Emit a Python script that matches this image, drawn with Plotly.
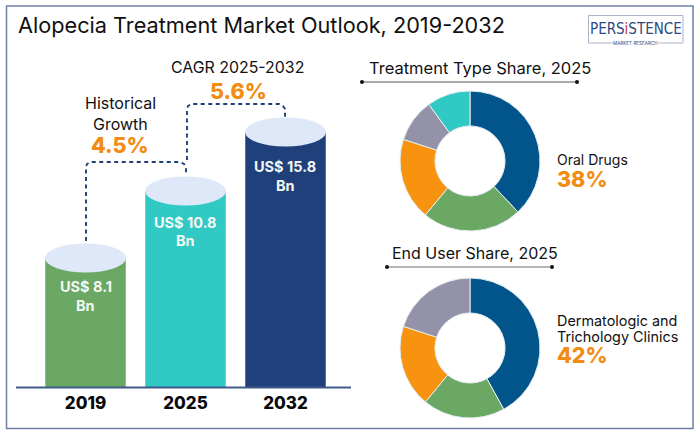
import plotly.graph_objects as go

W, H = 700, 435
BASE = 387

years = ["2019", "2025", "2032"]
market_values = ["8.1", "10.8", "15.8"]
bar_heights = [129, 196, 255]
bar_colors = ["#6aa864", "#30c9c3", "#20407c"]
cap_color = "#dfe8f8"

treatment_values = [38, 23, 19, 10, 10]
treatment_labels = ["Oral Drugs", "Topical Treatments", "Injectables", "Devices", "Others"]
treatment_colors = ["#02558b", "#6aa864", "#f7930f", "#9392a8", "#30c9c3"]

user_values = [42, 19, 19, 20]
user_labels = ["Dermatologic and Trichology Clinics", "Hospitals", "Homecare", "Others"]
user_colors = ["#02558b", "#6aa864", "#f7930f", "#9392a8"]

FONT = "Inter"
ORANGE = "#f28c13"
NAVY = "#1f3f78"


def px(x):
    return x / W


def py(y):
    return 1 - y / H


fig = go.Figure()

fig.add_trace(go.Bar(
    x=years, y=bar_heights, marker=dict(color=bar_colors, line=dict(width=0)),
    hoverinfo="skip", showlegend=False, width=0.805,
))

fig.add_trace(go.Pie(
    values=treatment_values, labels=treatment_labels, hole=0.5, sort=False,
    direction="clockwise", rotation=0, textinfo="none", showlegend=False,
    marker=dict(colors=treatment_colors, line=dict(color="#e6eef2", width=1)),
    domain=dict(x=[px(400), px(540)], y=[py(231), py(91)]),
))
fig.add_trace(go.Pie(
    values=user_values, labels=user_labels, hole=0.5, sort=False,
    direction="clockwise", rotation=0, textinfo="none", showlegend=False,
    marker=dict(colors=user_colors, line=dict(color="#e6eef2", width=1)),
    domain=dict(x=[px(400), px(540)], y=[py(418), py(278)]),
))

shapes = []
# outer frame
shapes.append(dict(type="rect", xref="paper", yref="paper", x0=px(6.5), x1=px(693), y0=py(428.5), y1=py(6),
                   line=dict(color="#6d7fa6", width=1.5), layer="below"))
# cylinder caps, derived from the bar heights
for i, h in enumerate(bar_heights):
    shapes.append(dict(type="circle", xref="x", yref="y", x0=i - 0.405, x1=i + 0.405, y0=h - 14.5, y1=h + 14.5,
                       fillcolor=cap_color, line=dict(width=0)))
# baseline
shapes.append(dict(type="line", xref="paper", yref="paper", x0=px(16), x1=px(351), y0=py(387.5), y1=py(387.5),
                   line=dict(color="#3f5a8a", width=2)))


def path(points):
    return "M " + " L ".join(f"{px(x):.5f},{py(y):.5f}" for x, y in points)


for pts in (
    [(86, 241), (86, 167), (87, 164), (90, 162), (180, 162), (184, 164), (186, 167), (186, 175)],
    [(187, 160), (187, 109), (188, 106), (191, 104), (279, 104), (283, 106), (285, 109), (285, 118)],
):
    shapes.append(dict(type="path", xref="paper", yref="paper", path=path(pts),
                       line=dict(color=NAVY, width=1.9, dash="4px,3.5px")))

# header rules with end dots
for x0, x1, y, col, lw in ((362, 577, 82, "#555555", 1), (387, 552, 267, "#b5b5b5", 2)):
    shapes.append(dict(type="line", xref="paper", yref="paper", x0=px(x0), x1=px(x1), y0=py(y), y1=py(y),
                       line=dict(color=col, width=lw)))
    for xc in (x0, x1):
        shapes.append(dict(type="circle", xref="paper", yref="paper", x0=px(xc - 2), x1=px(xc + 2),
                           y0=py(y + 2), y1=py(y - 2), fillcolor="#111111", line=dict(width=0)))

# logo frame
shapes.append(dict(type="rect", xref="paper", yref="paper", x0=px(588.5), x1=px(683), y0=py(43), y1=py(15.5),
                   line=dict(color="#aab4cc", width=1)))

ann = []


def text(x, y, s, size, color="#111111", weight=400, anchor="center", family=FONT, bg=None):
    ann.append(dict(x=px(x), y=py(y), xref="paper", yref="paper", text=s, showarrow=False,
                    xanchor=anchor, yanchor="middle", align="left" if anchor == "left" else "center",
                    bgcolor=bg, borderpad=0,
                    font=dict(family=family, size=size, color=color, weight=weight)))


text(16.5, 25, "Alopecia Treatment Market Outlook, 2019-2032", 21.7, anchor="left")
text(237.5, 67, "CAGR 2025-2032", 15.9)
text(238.5, 91, "5.6%", 21.5, ORANGE, 800)
text(120, 103, "Historical", 16)
text(120, 124, "Growth", 16)
text(120, 145, "4.5%", 21.5, ORANGE, 800)

label_offsets = [(28, 47), (31, 49), (35, 54)]
for i, (v, h) in enumerate(zip(market_values, bar_heights)):
    xc = [85.5, 185.5, 285][i]
    ytop = BASE - h
    text(xc, ytop + label_offsets[i][0], f"US$ {v}", 14.5, "#f4f8f4", 700)
    text(xc, ytop + label_offsets[i][1], "Bn", 14.5, "#f4f8f4", 700)

text(367.5, 68, "Treatment Type Share, 2025", 16.5, anchor="left")
text(390.5, 253, "End User Share, 2025", 16, anchor="left")
text(555.5, 159, treatment_labels[0], 14, anchor="left")
text(555.5, 179, f"{treatment_values[0]}%", 21.5, ORANGE, 800, anchor="left")
text(555.5, 321, "Dermatologic and", 14.4, anchor="left")
text(555.5, 337, "Trichology Clinics", 14.4, anchor="left")
text(555.5, 355, f"{user_values[0]}%", 21.5, ORANGE, 800, anchor="left")

# logo
ann.append(dict(x=px(635.7), y=py(29), xref="paper", yref="paper", showarrow=False, xanchor="center", yanchor="middle",
                text='PERS<span style="color:#c8323c">i</span>STENCE',
                font=dict(family="DejaVu Sans Condensed", size=15, color="#2b4a80")))
text(635.7, 43, "MARKET RESEARCH", 4.6, "#2b4a80", 400, bg="white")

fig.update_layout(
    width=W, height=H, margin=dict(l=0, r=0, t=0, b=0), paper_bgcolor="white", plot_bgcolor="rgba(0,0,0,0)",
    xaxis=dict(domain=[px(35.5), px(335.5)], type="category", categoryorder="array", categoryarray=years,
               tickfont=dict(family=FONT, size=17, color="#0a0a0a", weight=800), ticks="", showline=False,
               showgrid=False, zeroline=False, fixedrange=True, ticklen=0, anchor="y", automargin=False,
               ticklabelstandoff=4),
    yaxis=dict(domain=[py(BASE), py(0)], range=[0, BASE], visible=False, fixedrange=True, showgrid=False),
    shapes=shapes, annotations=ann, bargap=0.195,
)

fig.write_html("out.html", config=dict(displayModeBar=False),
               post_script="document.body.style.margin='0';document.body.style.overflow='hidden';")
